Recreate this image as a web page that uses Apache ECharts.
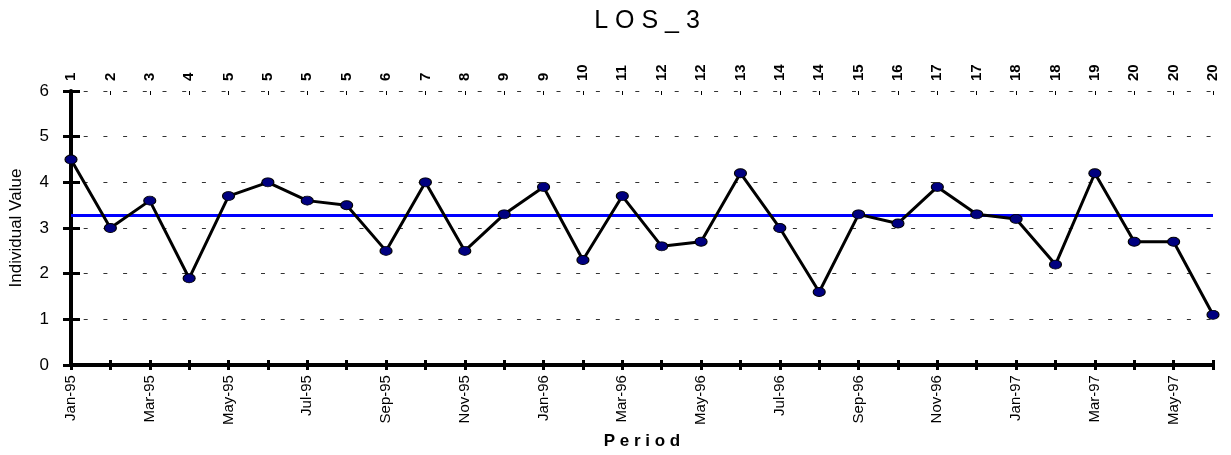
<!DOCTYPE html>
<html>
<head>
<meta charset="utf-8">
<script src="https://cdn.jsdelivr.net/npm/echarts@6/dist/echarts.min.js"></script>
<style>html,body{margin:0;padding:0;background:#fff;}#c{width:1231px;height:455px;}</style>
</head>
<body>
<div id="c"></div>
<script>
var periods = ['Jan-95','Feb-95','Mar-95','Apr-95','May-95','Jun-95','Jul-95','Aug-95','Sep-95','Oct-95','Nov-95','Dec-95',
  'Jan-96','Feb-96','Mar-96','Apr-96','May-96','Jun-96','Jul-96','Aug-96','Sep-96','Oct-96','Nov-96','Dec-96',
  'Jan-97','Feb-97','Mar-97','Apr-97','May-97','Jun-97'];
var topLabels = ['1','2','3','4','5','5','5','5','6','7','8','9','9','10','11','12','12','13','14','14','15','16','17','17','18','18','19','20','20','20'];
var values = [4.5,3.0,3.6,1.9,3.7,4.0,3.6,3.5,2.5,4.0,2.5,3.3,3.9,2.3,3.7,2.6,2.7,4.2,3.0,1.6,3.3,3.1,3.9,3.3,3.2,2.2,4.2,2.7,2.7,1.1];
var meanValue = 3.27;
var yTicks = {min: 0, max: 6, interval: 1};

var FONT = '"Liberation Sans", Arial, sans-serif';
var chart = echarts.init(document.getElementById('c'), null, {renderer: 'canvas'});
chart.setOption({
  animation: false,
  backgroundColor: '#fff',
  textStyle: {fontFamily: FONT, color: '#000'},
  title: {
    text: 'L O S _ 3', left: 642, textAlign: 'center', top: 4,
    textStyle: {fontFamily: FONT, fontSize: 25, fontWeight: 'normal', color: '#000'}
  },
  grid: {left: 71, right: 18, top: 91, bottom: 86, containLabel: false},
  xAxis: [
    {
      type: 'category', data: periods, position: 'bottom', boundaryGap: false,
      name: 'P e r i o d', nameLocation: 'middle', nameGap: 62,
      nameTextStyle: {fontFamily: FONT, fontSize: 17, fontWeight: 'bold', color: '#000'},
      axisLine: {lineStyle: {color: '#000', width: 4}},
      axisTick: {interval: 0, length: 5, lineStyle: {color: '#000', width: 3}},
      axisLabel: {interval: 1, rotate: 90, margin: 10, fontFamily: FONT, fontSize: 15, color: '#000'},
      splitLine: {show: false}
    },
    {
      type: 'category', data: topLabels, position: 'top', boundaryGap: false,
      axisLine: {lineStyle: {color: '#000', width: 1}},
      axisTick: {interval: 0, length: 4, lineStyle: {color: '#000', width: 1}},
      axisLabel: {interval: 0, rotate: 90, margin: 10, fontFamily: FONT, fontSize: 15, fontWeight: 'bold', color: '#000'},
      splitLine: {show: false}
    },
    {
      type: 'category', data: periods, position: 'bottom', boundaryGap: false,
      axisLine: {show: false},
      axisTick: {interval: 0, inside: true, length: 5, lineStyle: {color: '#000', width: 3}},
      axisLabel: {show: false}, splitLine: {show: false}
    },
    {
      type: 'category', data: topLabels, position: 'top', boundaryGap: false,
      axisLine: {show: false},
      axisTick: {interval: 0, inside: true, length: 4, lineStyle: {color: '#000', width: 1}},
      axisLabel: {show: false}, splitLine: {show: false}
    }
  ],
  yAxis: [
    {
      type: 'value', min: yTicks.min, max: yTicks.max, interval: yTicks.interval,
      name: 'Individual Value', nameLocation: 'middle', nameGap: 46,
      nameTextStyle: {fontFamily: FONT, fontSize: 17, color: '#000'},
      axisLine: {show: true, lineStyle: {color: '#000', width: 4}},
      axisTick: {show: true, length: 8, lineStyle: {color: '#000', width: 3}},
      axisLabel: {margin: 22, fontFamily: FONT, fontSize: 17, color: '#000'},
      splitLine: {show: true, lineStyle: {color: '#333', width: 1, type: [4, 15.7], dashOffset: 7}}
    },
    {
      type: 'value', min: yTicks.min, max: yTicks.max, interval: yTicks.interval, position: 'left',
      axisLine: {show: false},
      axisTick: {show: true, inside: true, length: 9, lineStyle: {color: '#000', width: 3}},
      axisLabel: {show: false}, splitLine: {show: false}
    }
  ],
  series: [
    {
      type: 'line', xAxisIndex: 0, yAxisIndex: 0, data: [], z: 1,
      markLine: {
        silent: true, symbol: 'none', label: {show: false},
        lineStyle: {color: '#0000ff', width: 3, type: 'solid'},
        data: [{yAxis: meanValue}]
      }
    },
    {
      type: 'line', xAxisIndex: 0, yAxisIndex: 0, data: values, z: 5,
      symbol: 'circle', symbolSize: [12, 9],
      lineStyle: {color: '#000', width: 3},
      itemStyle: {color: '#000080', borderColor: '#000', borderWidth: 1}
    }
  ]
});
</script>
</body>
</html>
